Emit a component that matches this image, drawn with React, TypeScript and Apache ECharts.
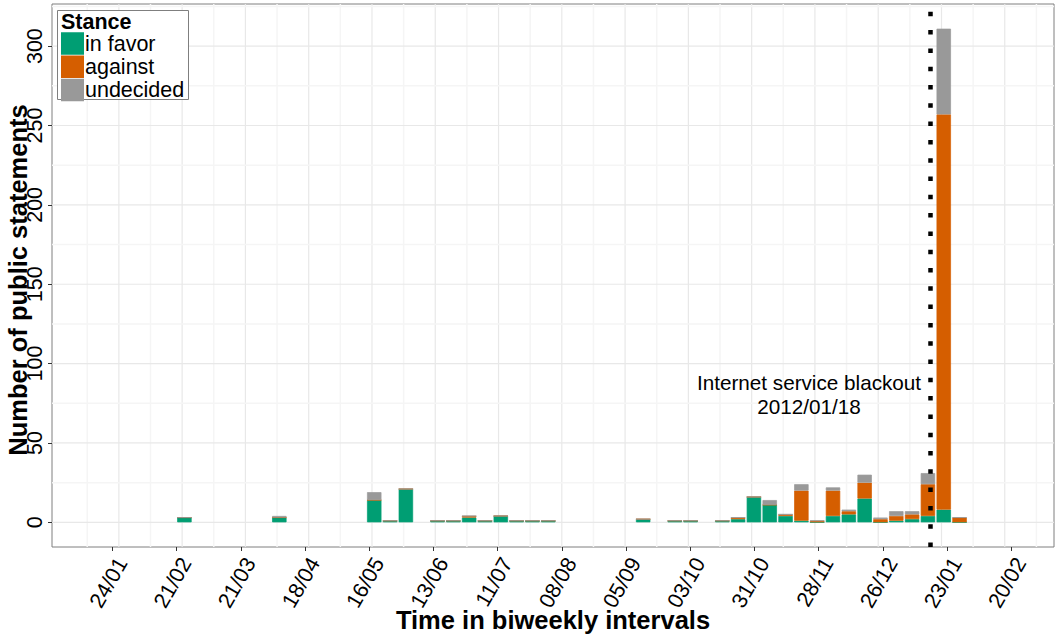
import React, { useEffect, useRef } from 'react';
import * as echarts from 'echarts';

// ---------------- data ----------------
const weeks = [
  '2011-02-22', '2011-04-05', '2011-05-17', '2011-05-24', '2011-05-31', '2011-06-14',
  '2011-06-21', '2011-06-28', '2011-07-05', '2011-07-12', '2011-07-19', '2011-07-26',
  '2011-08-02', '2011-09-13', '2011-09-27', '2011-10-04', '2011-10-18', '2011-10-25',
  '2011-11-01', '2011-11-08', '2011-11-15', '2011-11-22', '2011-11-29', '2011-12-06',
  '2011-12-13', '2011-12-20', '2011-12-27', '2012-01-03', '2012-01-10', '2012-01-17',
  '2012-01-24', '2012-01-31',
];
const inFavor = [3, 3, 14, 1, 21, 1, 1, 3, 1, 4, 1, 1, 1, 2, 1, 1, 1, 2, 16, 11, 4, 1, 0, 4, 5, 15, 0, 1, 2, 4, 8, 0];
const against = [0, 0, 0, 0, 0, 0, 0, 1, 0, 0, 0, 0, 0, 0, 0, 0, 0, 1, 0, 0, 1, 19, 1, 16, 2, 10, 2, 3, 3, 20, 249, 3];
const undecided = [0, 1, 5, 0, 0, 0, 0, 0, 0, 0, 0, 0, 0, 0, 0, 0, 0, 0, 0, 3, 0, 4, 0, 2, 1, 5, 1, 3, 2, 7, 54, 0];

const xTickDates = [
  '2011-01-24', '2011-02-21', '2011-03-21', '2011-04-18', '2011-05-16', '2011-06-13',
  '2011-07-11', '2011-08-08', '2011-09-05', '2011-10-03', '2011-10-31', '2011-11-28',
  '2011-12-26', '2012-01-23', '2012-02-20',
];
const xTickLabels = ['24/01', '21/02', '21/03', '18/04', '16/05', '13/06', '11/07', '08/08', '05/09', '03/10', '31/10', '28/11', '26/12', '23/01', '20/02'];
const yTicks = [0, 50, 100, 150, 200, 250, 300];
const yMinorTicks = [25, 75, 125, 175, 225, 275, 325];

const blackoutDate = '2012-01-18';
const blackoutLabel = 'Internet service blackout\n2012/01/18';
const stances = ['in favor', 'against', 'undecided'];
const colors = ['#009E73', '#D55E00', '#999999'];

// ---------------- helpers ----------------
const DAY = 86400000;
const ts = (s: string) => Date.parse(s + 'T00:00:00Z');
const xTickTs = xTickDates.map(ts);
const xMin = xTickTs[0] - 26.4 * DAY;
const xMax = xTickTs[0] + 410.6 * DAY;
const xMinorTs = [...xTickTs.map((t) => t - 14 * DAY), xTickTs[xTickTs.length - 1] + 14 * DAY].filter(
  (t) => t > xMin && t < xMax
);
const yMax = 311 * 1.05;
const yMin = -311 * 0.05;

const FONT = '"Liberation Sans", Arial, Helvetica, sans-serif';

const gridData: any[] = [
  ...xTickTs.map((t) => [t, 0, 0]),
  ...xMinorTs.map((t) => [t, 0, 1]),
  ...yTicks.map((v) => [xMin, v, 2]),
  ...yMinorTicks.map((v) => [xMin, v, 3]),
];

function makeBar(name: string, vals: number[], color: string, extra: any = {}) {
  return {
    name,
    type: 'bar',
    stack: 'total',
    barWidth: 14.4,
    xAxisIndex: 0,
    yAxisIndex: 0,
    z: 2,
    itemStyle: { color, borderColor: color, borderWidth: 0.7 },
    emphasis: { disabled: true },
    data: weeks.map((w, i) => [ts(w), vals[i]]),
    ...extra,
  };
}

const textStyleBase = (size: number, weight: string, align: string) => ({
  fontSize: size,
  fontWeight: weight,
  fontFamily: FONT,
  fill: '#000000',
  align,
  verticalAlign: 'middle',
  textAlign: align,
  textVerticalAlign: 'middle',
});

export default function App() {
  const ref = useRef<HTMLDivElement>(null);
  useEffect(() => {
    const chart = echarts.init(ref.current!, null, { renderer: 'svg' });
    const option: any = {
      animation: false,
      backgroundColor: '#ffffff',
      textStyle: { fontFamily: FONT },
      grid: {
        left: 52,
        right: 1,
        top: 4,
        bottom: 90,
        show: true,
        borderColor: '#7f7f7f',
        borderWidth: 1,
        backgroundColor: '#ffffff',
      },
      xAxis: [
        {
          type: 'time',
          min: xMin,
          max: xMax,
          show: false,
          splitLine: { show: false },
        },
        {
          type: 'value',
          position: 'bottom',
          min: xMin,
          max: xMax,
          axisLine: { show: false, onZero: false },
          splitLine: { show: false },
          axisTick: { show: true, length: 4, customValues: xTickTs, lineStyle: { color: '#333333', width: 1 } },
          axisLabel: {
            customValues: xTickTs,
            rotate: 60,
            align: 'right',
            verticalAlign: 'top',
            margin: 7,
            fontSize: 21.5,
            color: '#000000',
            fontFamily: FONT,
            formatter: (v: number) => {
              const i = xTickTs.indexOf(v);
              return i >= 0 ? xTickLabels[i] : '';
            },
          },
        },
      ],
      yAxis: {
        type: 'value',
        min: yMin,
        max: yMax,
        axisLine: { show: false, onZero: false },
        splitLine: { show: false },
        axisTick: { show: true, length: 4, customValues: yTicks, lineStyle: { color: '#333333', width: 1 } },
        axisLabel: {
          customValues: yTicks,
          rotate: 90,
          margin: 6,
          fontSize: 21.5,
          color: '#000000',
          fontFamily: FONT,
        },
      },
      legend: {
        data: stances,
        orient: 'vertical',
        left: 61,
        top: 32.3,
        padding: 0,
        itemGap: 0.7,
        itemWidth: 21,
        itemHeight: 20.5,
        icon: 'rect',
        selectedMode: false,
        z: 6,
        textStyle: { fontSize: 21.5, color: '#000000', lineHeight: 20.5, fontFamily: FONT, padding: [0, 0, 0, -3] },
      },
      graphic: [
        {
          type: 'rect',
          z: 5,
          shape: { x: 57.5, y: 10.5, width: 131, height: 89 },
          style: { fill: '#ffffff', stroke: '#7f7f7f', lineWidth: 1 },
        },
        {
          type: 'text',
          z: 7,
          x: 61,
          y: 22,
          style: { text: 'Stance', lineHeight: 19, ...textStyleBase(21.5, 'bold', 'left') },
        },
        { type: 'text', z: 7, x: 809, y: 394, style: { text: blackoutLabel, lineHeight: 24, ...textStyleBase(20.7, 'normal', 'center') } },
        { type: 'text', z: 7, x: 553, y: 620, style: { text: 'Time in biweekly intervals', ...textStyleBase(25.5, 'bold', 'center') } },
        {
          type: 'text',
          z: 7,
          x: 18,
          y: 280,
          rotation: Math.PI / 2,
          style: { text: 'Number of public statements', lineHeight: 24, ...textStyleBase(25.5, 'bold', 'center') },
        },
      ],
      series: [
        {
          name: 'grid-lines',
          type: 'custom',
          xAxisIndex: 0,
          yAxisIndex: 0,
          z: 1,
          silent: true,
          data: gridData,
          renderItem: (params: any, api: any) => {
            const kind = api.value(2);
            const cs = params.coordSys;
            if (kind < 2) {
              const p = api.coord([api.value(0), 0]);
              return {
                type: 'line',
                shape: { x1: p[0], y1: cs.y, x2: p[0], y2: cs.y + cs.height },
                style: { stroke: kind === 0 ? '#e8e8e8' : '#f5f5f5', lineWidth: kind === 0 ? 1.2 : 1.5 },
              };
            }
            const p = api.coord([xMin, api.value(1)]);
            return {
              type: 'line',
              shape: { x1: cs.x, y1: p[1], x2: cs.x + cs.width, y2: p[1] },
              style: { stroke: kind === 2 ? '#e8e8e8' : '#f5f5f5', lineWidth: kind === 2 ? 1.2 : 1.5 },
            };
          },
        },
        makeBar(stances[0], inFavor, colors[0]),
        makeBar(stances[1], against, colors[1]),
        makeBar(stances[2], undecided, colors[2], {
          markLine: {
            silent: true,
            symbol: ['none', 'none'],
            label: { show: false },
            lineStyle: { color: '#000000', width: 4.5, type: [4.5, 13.8], cap: 'butt' },
            data: [{ xAxis: ts(blackoutDate) }],
          },
        }),
      ],
    };
    chart.setOption(option);
    return () => chart.dispose();
  }, []);
  return <div ref={ref} style={{ position: 'absolute', left: 0, top: 0, width: 1055, height: 637 }} />;
}
